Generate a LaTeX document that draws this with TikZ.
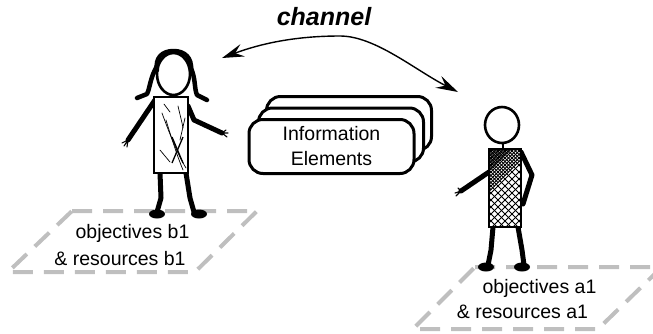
\documentclass[tikz,border=0pt]{standalone}
\usepackage{fontspec}
\setmainfont{Liberation Sans}
\usetikzlibrary{arrows.meta}
\begin{document}
\begin{tikzpicture}[x=1pt,y=-1pt,
  limb/.style={line width=5pt, line cap=round, line join=round},
  hairstroke/.style={line width=4.5pt, line cap=round, line join=round},
  headline/.style={line width=2.6pt},
  dressline/.style={line width=1.6pt},
  finger/.style={line width=1.1pt, line cap=round},
  sketch/.style={line width=0.7pt, line cap=round},
  hatch/.style={line width=0.8pt},
  foot/.style={fill=black},
  ground/.style={draw=black!25, line width=4pt, dash pattern=on 20pt off 11pt},
  label/.style={font=\fontsize{19.5}{24}\selectfont, inner sep=0pt},
  infobox/.style={draw, fill=white, line width=3pt, rounded corners=14pt,
    minimum width=165pt, minimum height=54pt, inner sep=0pt, align=center,
    font=\fontsize{19.5}{25}\selectfont},
  channelarrow/.style={line width=1.4pt,
    {Stealth[length=22pt,width=13pt,inset=8pt]}-{Stealth[length=22pt,width=13pt,inset=8pt]}},
  ]
\useasboundingbox (0,0) rectangle (653,333);

% ---------- ground areas ----------
\draw[ground] (72,211) -- (257,211) -- (195,272) -- (8,272) -- cycle;
\node[label, anchor=base] (objb) at (132.5,238) {objectives b1};
\node[label, anchor=base] (resb) at (120,265) {\& resources b1};

\draw[ground] (475,267) -- (662,267) -- (598,329) -- (413,329) -- cycle;
\node[label, anchor=base] (obja) at (539.5,293) {objectives a1};
\node[label, anchor=base] (resa) at (522.5,318) {\& resources a1};

% ---------- figure b (left) ----------
% legs and feet
\draw[limb] (160,173) -- (161,198) -- (157,212);
\draw[limb] (186,173) -- (190,198) -- (194,212);
\fill[foot] (157,214) ellipse (8pt and 4.5pt);
\fill[foot] (199,214) ellipse (8pt and 4.5pt);
% arms
\draw[limb] (155,100) -- (128,140);
\draw[limb] (188,106) -- (194,120) -- (222,133);
\draw[finger] (128,140) -- (124,146) (128,140) -- (127,147) (128,140) -- (122,143);
\draw[finger] (222,133) -- (228,133) (222,133) -- (227,137) (222,133) -- (226,130);
% dress with a few sketchy strokes
\draw[dressline, fill=white] (154,97) rectangle (188,173);
\draw[sketch] (162,113) .. controls (170,135) and (178,155) .. (186,168);
\draw[sketch] (166,120) .. controls (172,140) and (178,158) .. (183,170);
\draw[line width=1.3pt] (172,137) -- (183,163);
\draw[line width=1.3pt] (183,137) -- (172,163);
\draw[sketch] (178,106) .. controls (180,115) and (182,122) .. (183,128);
\draw[sketch] (160,150) -- (170,162);
\draw[sketch] (185,118) -- (180,140);
\draw[sketch] (164,104) -- (170,112);
% head and hair
\draw[headline, fill=white] (173.5,74) ellipse (16.5pt and 21pt);
\draw[hairstroke] (157,70) .. controls (155,58) and (162,51) .. (173.5,51)
  .. controls (185,51) and (192,58) .. (191,70);
\draw[hairstroke] (157,66) .. controls (150,78) and (150,88) .. (147,94) -- (137,98);
\draw[hairstroke] (190,66) .. controls (196,78) and (194,88) .. (197,95) -- (207,100);

% ---------- figure a (right) ----------
% legs and feet
\draw[limb] (493,227) -- (491,250) -- (488,265);
\draw[limb] (518,227) -- (522,250) -- (524,265);
\fill[foot] (486,267) ellipse (8pt and 4.5pt);
\fill[foot] (522,267) ellipse (8pt and 4.5pt);
% arms
\draw[limb] (489,172) -- (461,191);
\draw[finger] (461,191) -- (455,193) (461,191) -- (456,196) (461,191) -- (458,188);
\draw[limb] (521,152) -- (532,175) -- (523,204);
% neck
\draw[headline] (503,143) -- (503,149);
% dress with crosshatching, denser towards the top
\draw[dressline, fill=white] (489,149) rectangle (521,227);
\begin{scope}
  \clip (489,149) rectangle (521,227);
  \foreach \k in {-84,-77,...,35} {
    \draw[hatch] (489+\k,149) -- ++(80,80);
    \draw[hatch] (521-\k,149) -- ++(-80,80);
  }
\end{scope}
\begin{scope}
  \clip (489,149) -- (521,149) -- (521,160) -- (489,192) -- cycle;
  \foreach \k in {-80.5,-73.5,...,35} {
    \draw[hatch] (489+\k,149) -- ++(80,80);
    \draw[hatch] (521-\k,149) -- ++(-80,80);
  }
\end{scope}
\begin{scope}
  \clip (489,149) -- (512,149) -- (489,172) -- cycle;
  \foreach \k in {-82,-78.5,...,35} {
    \draw[hatch] (489+\k,149) -- ++(80,80);
  }
\end{scope}
\draw[dressline] (489,149) rectangle (521,227);
% head
\draw[headline, fill=white] (502,125) ellipse (17pt and 18pt);

% ---------- information elements ----------
\node[infobox] (ie3) at (349,123.5) {};
\node[infobox] (ie2) at (341,135) {};
\node[infobox] (ie1) at (331.5,146.5) {Information\\Elements};

% ---------- channel ----------
\coordinate (chanL) at (222,58);
\coordinate (chanR) at (458,92);
\draw[channelarrow] (chanL) .. controls (265,42) and (300,36) .. (340,36)
  .. controls (375,36) and (415,70) .. (chanR);
\node[anchor=base, inner sep=0pt, font=\fontsize{25}{30}\selectfont\bfseries\itshape]
  (chan) at (324,25) {channel};
\end{tikzpicture}
\end{document}
